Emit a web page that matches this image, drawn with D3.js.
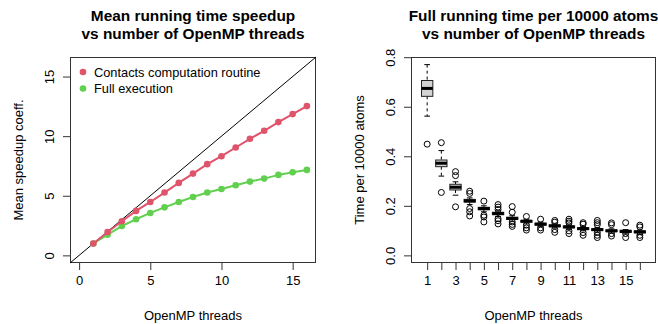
<!DOCTYPE html>
<html>
<head>
<meta charset="utf-8">
<script src="https://cdn.jsdelivr.net/npm/d3@7"></script>
<style>
  body { margin: 0; background: #fff; }
  text { font-family: "Liberation Sans", Arial, sans-serif; fill: #000; }
</style>
</head>
<body>
<svg></svg>
<script>
// thread counts (x values for both panels)
var threads = [1, 2, 3, 4, 5, 6, 7, 8, 9, 10, 11, 12, 13, 14, 15, 16];

// left panel: mean speedup
var contactsSpeedup = [1, 1.96, 2.86, 3.73, 4.48, 5.27, 6.08, 6.86, 7.65, 8.32, 9.05, 9.78, 10.45, 11.18, 11.85, 12.52];
var fullSpeedup = [1, 1.74, 2.46, 3.03, 3.56, 4.03, 4.48, 4.9, 5.27, 5.57, 5.88, 6.19, 6.44, 6.75, 6.97, 7.17];
var seriesNames = ["Contacts computation routine", "Full execution"];
var speedTicks = [0, 5, 10, 15];

// right panel: boxplot stats of time per 10000 atoms
var whiskerHi = [0.770, 0.423, 0.297, 0.232, 0.200, 0.180, 0.160, 0.146, 0.134, 0.127, 0.123, 0.116, 0.112, 0.107, 0.104, 0.102];
var q3 = [0.706, 0.385, 0.287, 0.226, 0.194, 0.174, 0.154, 0.141, 0.130, 0.123, 0.119, 0.112, 0.108, 0.103, 0.101, 0.099];
var medians = [0.674, 0.372, 0.275, 0.220, 0.189, 0.169, 0.149, 0.138, 0.126, 0.119, 0.115, 0.108, 0.104, 0.099, 0.097, 0.095];
var q1 = [0.642, 0.358, 0.264, 0.215, 0.184, 0.164, 0.145, 0.134, 0.122, 0.116, 0.111, 0.104, 0.100, 0.096, 0.093, 0.091];
var whiskerLo = [0.562, 0.320, 0.243, 0.205, 0.176, 0.157, 0.138, 0.127, 0.116, 0.110, 0.105, 0.099, 0.094, 0.090, 0.087, 0.085];
var outliers = [
  [0.449],
  [0.455, 0.254],
  [0.338, 0.322, 0.196],
  [0.259, 0.250, 0.189, 0.176, 0.159],
  [0.219, 0.162, 0.155, 0.135],
  [0.205, 0.195, 0.185, 0.148, 0.140, 0.127],
  [0.197, 0.174, 0.135, 0.125, 0.117],
  [0.157, 0.122, 0.111, 0.102],
  [0.146, 0.111, 0.102],
  [0.141, 0.134, 0.104, 0.093],
  [0.146, 0.138, 0.131, 0.099, 0.088],
  [0.132, 0.126, 0.092, 0.081],
  [0.141, 0.132, 0.124, 0.092, 0.081, 0.072],
  [0.131, 0.124, 0.088, 0.078],
  [0.132, 0.088, 0.072],
  [0.122, 0.115, 0.081, 0.072]
];
var timeTicks = [0, 0.2, 0.4, 0.6, 0.8];
var timeTickLabels = ["0.0", "0.2", "0.4", "0.6", "0.8"];
var threadTickLabels = [1, 3, 5, 7, 9, 11, 13, 15];

var width = 658;
var height = 324;
var svg = d3.select("svg").attr("width", width).attr("height", height);

var red = "#DF536B";
var green = "#61D04F";

// draws the frame, axes and titles of one R-like panel
function drawFrame(g, x, y, xticks, xlabels, yticks, ylabels, title, xtitle, ytitle) {
  var x0 = x.range()[0], x1 = x.range()[1];
  var y0 = y.range()[0], y1 = y.range()[1];
  var cx = (x0 + x1) / 2;

  var xa = g.append("g").attr("transform", "translate(0," + y0 + ")")
    .call(d3.axisBottom(x).tickValues(xticks).tickSize(7).tickSizeOuter(0).tickPadding(6)
      .tickFormat(function(d) { return xlabels.indexOf(d) >= 0 ? d : ""; }));
  xa.select(".domain").remove();
  xa.selectAll("line").attr("stroke", "#333");
  xa.selectAll("text").style("font-size", "13px").attr("fill", "#000");

  var ya = g.append("g").attr("transform", "translate(" + x0 + ",0)")
    .call(d3.axisLeft(y).tickValues(yticks).tickSize(7).tickSizeOuter(0)
      .tickFormat(function(d, i) { return ylabels[i]; }));
  ya.select(".domain").remove();
  ya.selectAll("line").attr("stroke", "#333");
  ya.selectAll("text")
    .attr("x", null).attr("dy", null)
    .attr("text-anchor", "middle")
    .attr("transform", "translate(-16,0) rotate(-90)")
    .style("font-size", "13px").attr("fill", "#000");

  g.append("rect")
    .attr("x", x0 + 0.5).attr("y", y1 + 0.5)
    .attr("width", x1 - x0 - 1).attr("height", y0 - y1 - 1)
    .attr("fill", "none").attr("stroke", "#333");

  var t = g.append("text").attr("text-anchor", "middle")
    .style("font-size", "15.4px").style("font-weight", "bold");
  t.append("tspan").attr("x", cx).attr("y", 21).text(title[0]);
  t.append("tspan").attr("x", cx).attr("y", 39).text(title[1]);

  g.append("text").attr("x", cx).attr("y", 320).attr("text-anchor", "middle")
    .style("font-size", "13px").text(xtitle);
  g.append("text").attr("text-anchor", "middle")
    .attr("transform", "translate(" + (x0 - 47) + "," + ((y0 + y1) / 2) + ") rotate(-90)")
    .style("font-size", "13px").text(ytitle);
}

// ---------- left panel ----------
var left = svg.append("g");
var xL = d3.scaleLinear().domain([-0.64, 16.64]).range([70, 316]);
var yL = d3.scaleLinear().domain([-0.64, 16.64]).range([263, 57]);

drawFrame(left, xL, yL, speedTicks, speedTicks, speedTicks, speedTicks,
  ["Mean running time speedup", "vs number of OpenMP threads"],
  "OpenMP threads", "Mean speedup coeff.");

// ideal y = x line
left.append("line")
  .attr("x1", xL(-0.64)).attr("y1", yL(-0.64))
  .attr("x2", xL(16.64)).attr("y2", yL(16.64))
  .attr("stroke", "#000").attr("stroke-width", 1);

var series = [
  { name: seriesNames[0], values: contactsSpeedup, color: red },
  { name: seriesNames[1], values: fullSpeedup, color: green }
];

var line = d3.line()
  .x(function(d, i) { return xL(threads[i]); })
  .y(function(d) { return yL(d); });

series.slice().reverse().forEach(function(s) {
  left.append("path")
    .attr("d", line(s.values))
    .attr("fill", "none")
    .attr("stroke", s.color)
    .attr("stroke-width", 2);
  left.selectAll(null)
    .data(s.values)
    .enter()
    .append("circle")
    .attr("cx", function(d, i) { return xL(threads[i]); })
    .attr("cy", function(d) { return yL(d); })
    .attr("r", 3.3)
    .attr("fill", s.color);
});

// legend
var legend = left.append("g");
series.forEach(function(s, i) {
  legend.append("circle")
    .attr("cx", 83).attr("cy", 72 + i * 16.5)
    .attr("r", 3.3).attr("fill", s.color);
  legend.append("text")
    .attr("x", 94).attr("y", 76.5 + i * 16.5)
    .style("font-size", "12.8px")
    .text(s.name);
});

// ---------- right panel ----------
var right = svg.append("g");
var xR = d3.scaleLinear().domain([-0.14, 17.14]).range([411, 656]);
var yR = d3.scaleLinear().domain([-0.0308, 0.8008]).range([263, 57]);

drawFrame(right, xR, yR, threads, threadTickLabels, timeTicks, timeTickLabels,
  ["Full running time per 10000 atoms", "vs number of OpenMP threads"],
  "OpenMP threads", "Time per 10000 atoms");

var boxes = threads.map(function(t, i) {
  return { t: t, lo: whiskerLo[i], q1: q1[i], med: medians[i], q3: q3[i], hi: whiskerHi[i], out: outliers[i] };
});

var boxHalf = 0.4;
var capHalf = 0.2;

var bg = right.selectAll("g.box")
  .data(boxes)
  .enter()
  .append("g")
  .attr("class", "box");

// whiskers (dashed)
bg.append("line")
  .attr("x1", function(d) { return xR(d.t); }).attr("x2", function(d) { return xR(d.t); })
  .attr("y1", function(d) { return yR(d.hi); }).attr("y2", function(d) { return yR(d.q3); })
  .attr("stroke", "#000").attr("stroke-dasharray", "3,3");
bg.append("line")
  .attr("x1", function(d) { return xR(d.t); }).attr("x2", function(d) { return xR(d.t); })
  .attr("y1", function(d) { return yR(d.q1); }).attr("y2", function(d) { return yR(d.lo); })
  .attr("stroke", "#000").attr("stroke-dasharray", "3,3");
// caps
bg.selectAll("line.cap")
  .data(function(d) { return [{ t: d.t, v: d.hi }, { t: d.t, v: d.lo }]; })
  .enter()
  .append("line")
  .attr("class", "cap")
  .attr("x1", function(d) { return xR(d.t - capHalf); })
  .attr("x2", function(d) { return xR(d.t + capHalf); })
  .attr("y1", function(d) { return yR(d.v); })
  .attr("y2", function(d) { return yR(d.v); })
  .attr("stroke", "#000");
// box
bg.append("rect")
  .attr("x", function(d) { return xR(d.t - boxHalf); })
  .attr("width", function(d) { return xR(d.t + boxHalf) - xR(d.t - boxHalf); })
  .attr("y", function(d) { return yR(d.q3); })
  .attr("height", function(d) { return yR(d.q1) - yR(d.q3); })
  .attr("fill", "#D3D3D3").attr("stroke", "#222");
// median
bg.append("line")
  .attr("x1", function(d) { return xR(d.t - boxHalf); })
  .attr("x2", function(d) { return xR(d.t + boxHalf); })
  .attr("y1", function(d) { return yR(d.med); })
  .attr("y2", function(d) { return yR(d.med); })
  .attr("stroke", "#000").attr("stroke-width", 3);
// outliers
bg.selectAll("circle")
  .data(function(d) { return d.out.map(function(v) { return { t: d.t, v: v }; }); })
  .enter()
  .append("circle")
  .attr("cx", function(d) { return xR(d.t); })
  .attr("cy", function(d) { return yR(d.v); })
  .attr("r", 3)
  .attr("fill", "none")
  .attr("stroke", "#000");
</script>
</body>
</html>
